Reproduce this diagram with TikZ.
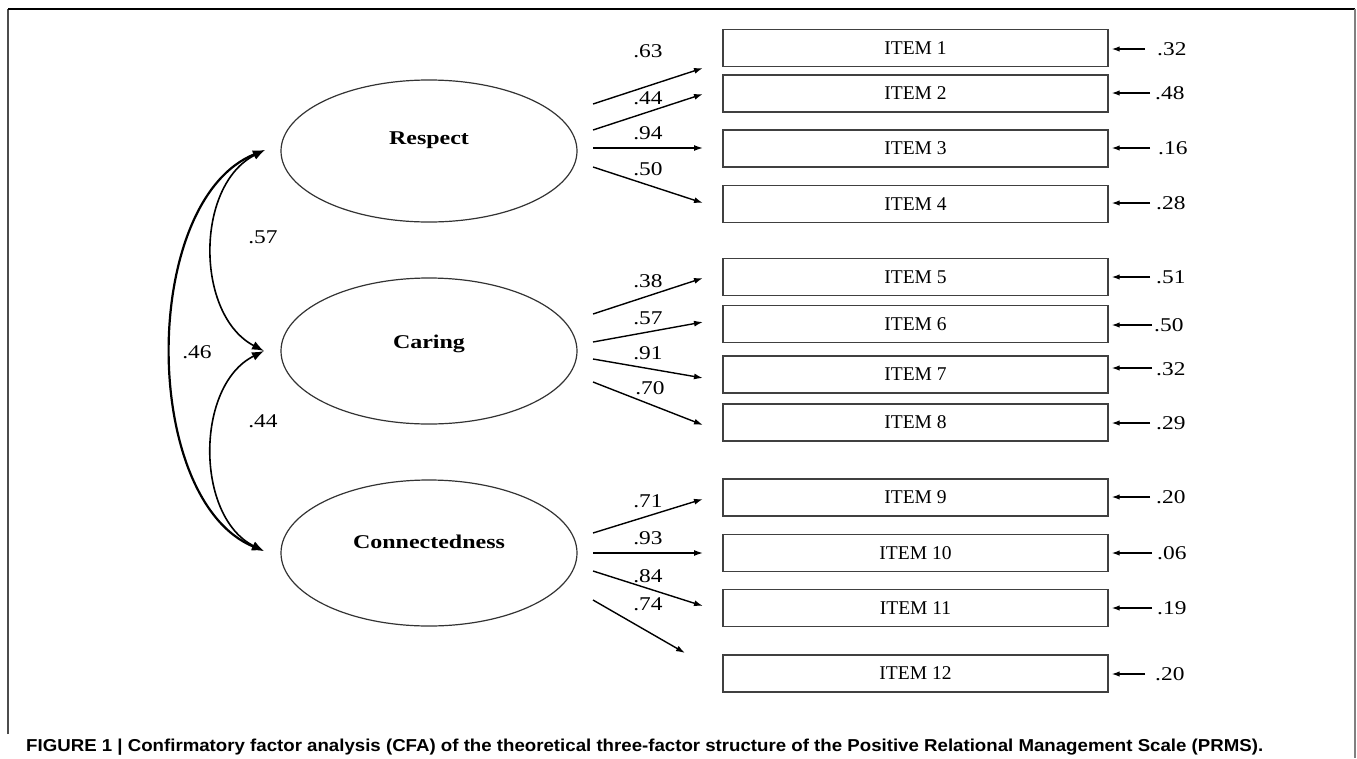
\documentclass[tikz,border=0pt]{standalone}
\usepackage{fontspec}
\usepackage{graphicx}
\setmainfont{Liberation Serif}
\newfontfamily\numf[FakeStretch=1.2]{Liberation Serif}
\newfontfamily\latf[FakeStretch=1.23]{Liberation Serif}
\newfontfamily\capf{Liberation Sans}
\usetikzlibrary{shapes.geometric,arrows.meta}
\begin{document}
\begin{tikzpicture}[x=1pt,y=-1pt,
 latent/.style={ellipse,draw=black!80,line width=1.2pt,minimum width=296pt,minimum height=146pt,inner sep=0pt},
 itembox/.style={rectangle,draw=black!75,line width=1.4pt,minimum width=385pt,minimum height=37pt,inner sep=0pt,font=\fontsize{19.5}{20}\selectfont},
 latlabel/.style={font=\latf\bfseries\fontsize{19.5}{20}\selectfont,anchor=base,inner sep=0pt},
 num/.style={font=\numf\fontsize{19.5}{20}\selectfont,inner sep=0pt},
 errnum/.style={num,anchor=west},
 load/.style={-{Latex[length=9pt,width=6pt]},line width=1.4pt},
 err/.style={-{Latex[length=8pt,width=5.5pt]},line width=1.3pt},
 cov/.style={{Latex[length=12pt,width=9pt]}-{Latex[length=12pt,width=9pt]},line width=1.6pt},
]
\useasboundingbox (0,0) rectangle (1357,758);
% frame
\draw[black!70,line width=1.5pt] (8,734) -- (8,9);
\draw[black,line width=1.5pt] (8,9) -- (1355,9);
\draw[black!50,line width=2pt] (1355,9) -- (1355,758);

% latent variables
\node[latent,minimum height=142pt] (R) at (429,151) {};
\node[latent] (C) at (429,351) {};
\node[latent] (N) at (429,553) {};
\node[latlabel] (Rl) at (429,144) {Respect};
\node[latlabel] (Cl) at (429,348) {Caring};
\node[latlabel] (Nl) at (429,548) {Connectedness};

% items
\node[itembox] (I1) at (915.5,48) {ITEM 1};
\node[itembox] (I2) at (915.5,93.5) {ITEM 2};
\node[itembox] (I3) at (915.5,148.5) {ITEM 3};
\node[itembox] (I4) at (915.5,204) {ITEM 4};
\node[itembox] (I5) at (915.5,277) {ITEM 5};
\node[itembox] (I6) at (915.5,324) {ITEM 6};
\node[itembox] (I7) at (915.5,374.5) {ITEM 7};
\node[itembox] (I8) at (915.5,422.5) {ITEM 8};
\node[itembox] (I9) at (915.5,497.5) {ITEM 9};
\node[itembox] (I10) at (915.5,553) {ITEM 10};
\node[itembox] (I11) at (915.5,608) {ITEM 11};
\node[itembox] (I12) at (915.5,673.5) {ITEM 12};

% loading arrows
\coordinate (a1s) at (593,104); \coordinate (a1e) at (703,68);
\coordinate (a2s) at (593,130); \coordinate (a2e) at (703,94);
\coordinate (a3s) at (593,148); \coordinate (a3e) at (703,148);
\coordinate (a4s) at (593,167); \coordinate (a4e) at (703,203);
\coordinate (a5s) at (593,314); \coordinate (a5e) at (703,278);
\coordinate (a6s) at (593,342); \coordinate (a6e) at (703,322);
\coordinate (a7s) at (593,359); \coordinate (a7e) at (703,378);
\coordinate (a8s) at (593,382); \coordinate (a8e) at (703,425);
\coordinate (a9s) at (593,533); \coordinate (a9e) at (703,499);
\coordinate (a10s) at (593,553); \coordinate (a10e) at (703,553);
\coordinate (a11s) at (593,571); \coordinate (a11e) at (703,606);
\coordinate (a12s) at (593,600); \coordinate (a12e) at (685,653);
\foreach \i in {1,...,12}{\draw[load] (a\i s) -- (a\i e);}

\node[num] (l1) at (648,51.5) {.63};
\node[num] (l2) at (648,98.5) {.44};
\node[num] (l3) at (648,133.5) {.94};
\node[num] (l4) at (648,169) {.50};
\node[num] (l5) at (648,281) {.38};
\node[num] (l6) at (648,318) {.57};
\node[num] (l7) at (648,353) {.91};
\node[num] (l8) at (650,388) {.70};
\node[num] (l9) at (648,501) {.71};
\node[num] (l10) at (648,538) {.93};
\node[num] (l11) at (648,576) {.84};
\node[num] (l12) at (648,604) {.74};

% error arrows
\coordinate (e1) at (1145,49);
\coordinate (e2) at (1150,93);
\coordinate (e3) at (1150,148);
\coordinate (e4) at (1150,203);
\coordinate (e5) at (1150,277);
\coordinate (e6) at (1152,325);
\coordinate (e7) at (1152,368);
\coordinate (e8) at (1150,423);
\coordinate (e9) at (1150,497);
\coordinate (e10) at (1152,553);
\coordinate (e11) at (1152,608);
\coordinate (e12) at (1145,674);
\foreach \i in {1,...,12}{\draw[err,shorten >=3pt] (e\i) -- (e\i -| I\i.east);}
\node[errnum] (v1) at (1157,49) {.32};
\node[errnum] (v2) at (1155,93) {.48};
\node[errnum] (v3) at (1158,148) {.16};
\node[errnum] (v4) at (1156,203) {.28};
\node[errnum] (v5) at (1156,277) {.51};
\node[errnum] (v6) at (1154,325) {.50};
\node[errnum] (v7) at (1156,369) {.32};
\node[errnum] (v8) at (1156,423) {.29};
\node[errnum] (v9) at (1156,497) {.20};
\node[errnum] (v10) at (1157,553) {.06};
\node[errnum] (v11) at (1157,608) {.19};
\node[errnum] (v12) at (1155,674) {.20};

% covariances
\coordinate (tR) at (265,150);
\coordinate (tC) at (264,351);
\coordinate (tN) at (264,551);
\draw[cov] (tR) .. controls (195,185) and (195,315) .. (tC);
\draw[cov] (tC) .. controls (195,385) and (195,517) .. (tN);
\draw[cov,line width=2.2pt] (tR) .. controls (140,200) and (140,500) .. (tN);
\node[num] (c57) at (263,237) {.57};
\node[num] (c46) at (197,352) {.46};
\node[num] (c44) at (263,421) {.44};

% caption
\node[anchor=base west,inner sep=0pt] (cap) at (26,751) {\resizebox{1237pt}{12.5pt}{\capf\bfseries FIGURE 1 | Confirmatory factor analysis (CFA) of the theoretical three-factor structure of the Positive Relational Management Scale (PRMS).}};
\end{tikzpicture}
\end{document}
